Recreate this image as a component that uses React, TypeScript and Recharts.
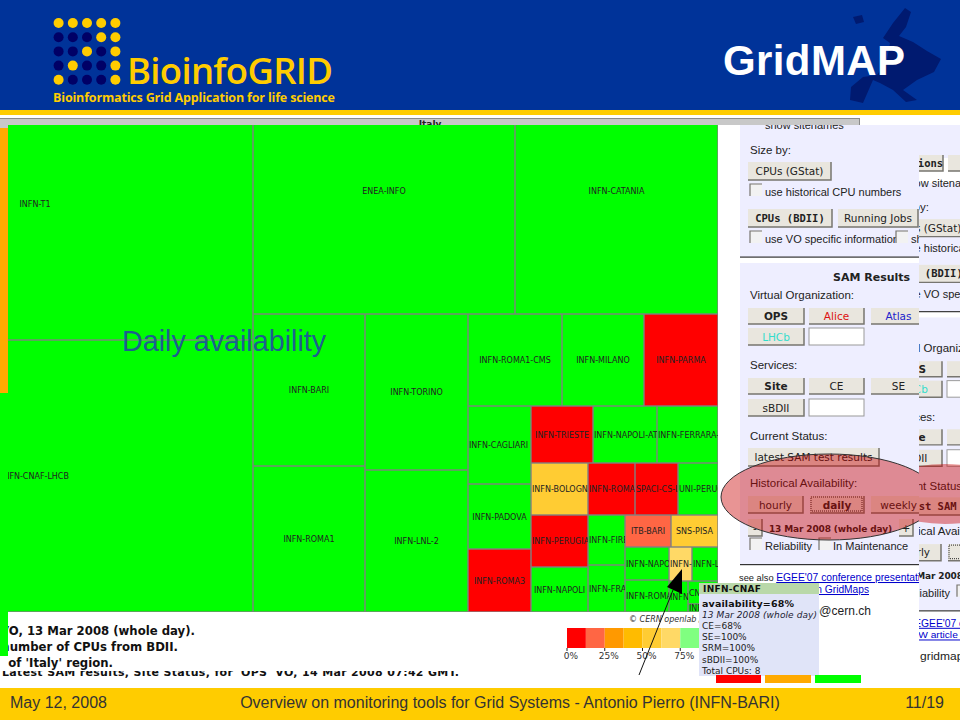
import { Bar, BarChart, Cell, Treemap, XAxis, YAxis } from 'recharts';

// sites in layout order, with CPU counts and daily availability
const siteNames = [
  'INFN-T1', 'INFN-CNAF-LHCB', 'ENEA-INFO', 'INFN-CATANIA', 'INFN-BARI', 'INFN-ROMA1', 'INFN-TORINO', 'INFN-LNL-2',
  'INFN-ROMA1-CMS', 'INFN-MILANO', 'INFN-PARMA', 'INFN-CAGLIARI', 'INFN-PADOVA', 'INFN-ROMA3', 'INFN-TRIESTE',
  'INFN-NAPOLI-ATLAS', 'INFN-FERRARA-GRID', 'INFN-BOLOGNA', 'INFN-PERUGIA', 'INFN-NAPOLI', 'INFN-ROMA2', 'SPACI-CS-IA64',
  'UNI-PERUGIA', 'INFN-FIRENZE', 'INFN-FRASCATI', 'ITB-BARI', 'SNS-PISA', 'INFN-NAPOLI-CMS', 'INFN-ROMA1-VIRGO',
  'INFN-CNAF', 'INFN-LECCE', 'INFN-GENOVA', 'CNR-ILC-PISA', 'INFN-PAVIA',
];
const siteCpus = [
  1210, 1210, 658, 510, 174, 167, 164, 149, 88, 77, 70, 50, 42, 41, 36, 37, 35, 30, 30, 26, 25, 23, 21, 19, 18, 15, 15, 15, 14, 8, 9, 6, 7, 2,
];
const siteAvailability = [
  100, 100, 100, 100, 100, 100, 100, 100, 100, 100, 0, 100, 100, 0, 0, 100, 100, 55, 0, 100, 0, 0, 100, 100, 100, 20, 55, 100, 100, 68, 100, 100, 100, 100,
];

const legendColours = ['#ff0000', '#ff6644', '#ff9900', '#ffbb00', '#ffcc33', '#ffd966', '#80ff80', '#40ff40'];
const legendTicks = [0, 25, 50, 75, 100];
const legendBand = 12.5;

const tooltipLines = ['CE=68%', 'SE=100%', 'SRM=100%', 'sBDII=100%', 'Total CPUs: 8'];
const logoDots = ['YYYYY', 'NNNYY', 'NNYNY', 'NYNNY', 'YNNNY'];

const treeData = siteNames.map((name, i) => ({ name, cpus: siteCpus[i], availability: siteAvailability[i] }));
const legendRow = [Object.fromEntries(legendColours.map((_, i) => [`b${i}`, legendBand]))];

const GREEN = '#00ff00';
const SANS = '"Liberation Sans", Arial, sans-serif';
const DEJAVU = '"DejaVu Sans", sans-serif';

function colourFor(availability: number) {
  if (availability >= 100) return GREEN;
  return legendColours[Math.floor(availability / legendBand)];
}

function SiteCell(props: any) {
  const { x, y, width, height, name, availability, depth } = props;
  if (depth !== 1) return null;
  const tooWide = name.length * 5.1 > width;
  return (
    <svg x={x} y={y} width={width} height={height}>
      <rect x={0} y={0} width={width} height={height} fill={colourFor(availability)} stroke="#808080" strokeWidth={1.4} />
      <text
        x={tooWide ? 1 : width / 2}
        y={height / 2 + 3}
        textAnchor={tooWide ? 'start' : 'middle'}
        fontFamily={DEJAVU}
        fontSize={8}
        stroke="none"
        fill="#222"
      >
        {name}
      </text>
    </svg>
  );
}

function Btn({ x, y, w, h = 18, label, bold, colour, mono, dotted }: any) {
  return (
    <g>
      <rect x={x} y={y} width={w} height={h} fill="#e9e6de" />
      <path d={`M${x} ${y + h}H${x + w}V${y}`} fill="none" stroke="#77756f" strokeWidth={1.5} />
      {dotted && <rect x={x + 1} y={y + 1} width={w - 3} height={h - 3} fill="none" stroke="#222" strokeDasharray="1 1" />}
      <text
        x={x + w / 2}
        y={y + h / 2 + 4}
        textAnchor="middle"
        fontFamily={mono ? '"DejaVu Sans Mono", monospace' : DEJAVU}
        fontWeight={bold ? 700 : 400}
        fontSize={10.5}
        fill={colour || '#222'}
      >
        {label}
      </text>
    </g>
  );
}

function Check({ x, y }: { x: number; y: number }) {
  return (
    <g>
      <rect x={x} y={y} width={12} height={12} fill="#f2f2f2" />
      <path d={`M${x} ${y + 12}V${y}H${x + 12}`} fill="none" stroke="#77756f" strokeWidth={1.2} />
    </g>
  );
}

function Label({ x, y, size = 11.5, children }: any) {
  return (
    <text x={x} y={y} fontFamily={SANS} fontSize={size} fill="#222">
      {children}
    </text>
  );
}

function Panel({ behind }: { behind?: boolean }) {
  return (
    <g>
      <rect x={740} y={125} width={320} height={132} fill="#eeeeff" />
      <rect x={740} y={256.5} width={320} height={1.2} fill="#333" />
      <rect x={740} y={263} width={320} height={301} fill="#eeeeff" />
      <rect x={740} y={564} width={320} height={1.2} fill="#333" />
      <Label x={765} y={129} size={11}>show sitenames</Label>
      <Label x={750} y={154}>Size by:</Label>
      <Btn x={748} y={162} w={83} label="CPUs (GStat)" />
      <Check x={750} y={184} />
      <Label x={765} y={196} size={11}>use historical CPU numbers</Label>
      <Btn x={748} y={209} w={84} label="CPUs (BDII)" bold mono />
      <Btn x={838} y={209} w={80} label="Running Jobs" />
      <Check x={750} y={231} />
      <Label x={765} y={243} size={11}>use VO specific information</Label>
      <Check x={896} y={231} />
      <Label x={911} y={243} size={11}>show</Label>

      <text x={833} y={281} fontFamily={DEJAVU} fontWeight={700} fontSize={11} fill="#222">SAM Results</text>
      <Label x={750} y={299}>Virtual Organization:</Label>
      <Btn x={748} y={308} w={56} h={16} label="OPS" bold />
      <Btn x={809} y={308} w={55} h={16} label="Alice" colour="#dd1111" />
      <Btn x={871} y={308} w={55} h={16} label="Atlas" colour="#2222cc" />
      <Btn x={748} y={328} w={56} h={17} label="LHCb" colour="#33ddcc" />
      <rect x={809} y={328} width={55} height={17} fill="#fff" stroke="#999" />
      <Label x={750} y={369}>Services:</Label>
      <Btn x={748} y={378} w={56} h={16} label="Site" bold />
      <Btn x={809} y={378} w={55} h={16} label="CE" />
      <Btn x={871} y={378} w={55} h={16} label="SE" />
      <Btn x={748} y={399} w={56} h={17} label="sBDII" />
      <rect x={809} y={399} width={55} height={17} fill="#fff" stroke="#999" />
      <Label x={750} y={440}>Current Status:</Label>
      {behind ? (
        <Btn x={748} y={448} w={160} label="latest SAM test results" bold mono />
      ) : (
        <Btn x={748} y={448} w={131} label="latest SAM test results" />
      )}
      <Label x={750} y={487}>Historical Availability:</Label>
      <Btn x={748} y={496} w={55} h={17} label="hourly" />
      <Btn x={810} y={496} w={54} h={17} label="daily" bold dotted />
      <Btn x={871} y={496} w={55} h={17} label="weekly" />
      <Btn x={748} y={519} w={14} h={17} label="-" />
      <text x={behind ? 763 : 769} y={532} fontFamily={DEJAVU} fontWeight={700} fontSize={9} fill="#222" textLength={123}>13 Mar 2008 (whole day)</text>
      <Btn x={899} y={519} w={14} h={17} label="+" />
      <Check x={750} y={538} />
      <Label x={765} y={550} size={11}>Reliability</Label>
      <Check x={819} y={538} />
      <Label x={833} y={550} size={11}>In Maintenance</Label>

      <text x={739} y={581} fontFamily={SANS} fontSize={9.3} fill="#222">
        see also{' '}
        <tspan fill="#0000cc" fontSize={10.3} textDecoration="underline">EGEE'07 conference presentation on GridMaps</tspan>
      </text>
      <text x={behind ? 757 : 745} y={593} fontFamily={SANS} fontSize={10.2} fill="#0000cc" textDecoration="underline">iSGTW article on GridMaps</text>
      <Label x={behind ? 782 : 776} y={615} size={12}>gridmap@cern.ch</Label>
    </g>
  );
}

function Europe() {
  return (
    <g fill="#001a70">
      <path d="M905 8L911 12L906 27L899 36L913 42L927 51L941 59L934 72L917 80L903 90L917 100L906 102L893 90L880 83L873 80L863 103L850 100L851 87L863 77L877 75L887 60L890 43L883 38L893 23Z" />
      <path d="M853 17L862 15L864 22L856 24Z" />
    </g>
  );
}

function Backdrop() {
  return (
    <svg width={960} height={720} style={{ position: 'absolute', left: 0, top: 0 }}>
      <defs>
        <clipPath id="frontClip"><rect x={0} y={125} width={919} height={563} /></clipPath>
        <clipPath id="backClip"><rect x={919} y={125} width={41} height={563} /></clipPath>
        <clipPath id="textClip"><rect x={8} y={612} width={300} height={58} /></clipPath>
        <clipPath id="cutLine"><rect x={0} y={671} width={480} height={9} /></clipPath>
        <clipPath id="italyClip"><rect x={0} y={118} width={860} height={7} /></clipPath>
      </defs>
      <rect x={718} y={118} width={242} height={570} fill="#fff" />
      <rect x={0} y={612} width={960} height={76} fill="#fff" />
      <rect x={0} y={125} width={8} height={490} fill="#fff" />
      <g clipPath="url(#backClip)">
        <g transform="translate(138 61.5) scale(1 0.973)">
          <Panel behind />
        </g>
        <rect x={919} y={125} width={41} height={33} fill="#eeeeff" />
        <Btn x={899} y={155} w={44} h={16} label="Options" bold mono />
        <Btn x={948} y={155} w={40} h={16} label="" />
      </g>
      <g clipPath="url(#frontClip)">
        <rect x={735} y={125} width={184} height={563} fill="#fff" />
        <Panel />
      </g>
      <rect x={0} y={118} width={860} height={7} fill="#c8c8c8" />
      <rect x={0} y={118} width={860} height={1} fill="#8a8a8a" />
      <rect x={859} y={118} width={1} height={7} fill="#8a8a8a" />
      <g clipPath="url(#italyClip)">
        <text x={430} y={127} textAnchor="middle" fontFamily={DEJAVU} fontSize={9} fontWeight={700} fill="#222">Italy</text>
      </g>

      <rect x={0} y={125} width={8} height={3} fill="#c8c8c8" />
      <rect x={0} y={128} width={8} height={265} fill="#ffaa00" />
      <rect x={0} y={393} width={8} height={263} fill={GREEN} />

      <g fontFamily={DEJAVU} fontWeight={700} fontSize={11.7} fill="#111" clipPath="url(#textClip)">
        <text x={195} y={635} textAnchor="end">Availability for OPS VO, 13 Mar 2008 (whole day).</text>
        <text x={178} y={651} textAnchor="end">Size: number of CPUs from BDII.</text>
        <text x={113} y={667} textAnchor="end">of 'Italy' region.</text>
      </g>
      <g clipPath="url(#cutLine)">
        <text x={2} y={676} fontFamily={DEJAVU} fontWeight={700} fontSize={11} fill="#111" textLength={457}>
          Latest SAM results, Site Status, for 'OPS' VO, 14 Mar 2008 07:42 GMT.
        </text>
      </g>
      <text x={629} y={622} fontFamily={DEJAVU} fontStyle="italic" fontSize={8} fill="#333">© CERN openlab /</text>

      <rect x={0} y={0} width={960} height={110} fill="#003399" />
      <rect x={0} y={110} width={960} height={5} fill="#ffcc00" />
      <rect x={0} y={115} width={960} height={3} fill="#fff" />
      {logoDots.map((row, r) =>
        row.split('').map((c, i) => (
          <circle key={`${r}-${i}`} cx={58.6 + i * 14.2} cy={23 + r * 14.2} r={5} fill={c === 'Y' ? '#ffcc00' : '#000066'} />
        )),
      )}
      <text x={127} y={84} fontFamily='"Open Sans", sans-serif' fontWeight={600} fontSize={36.5} fill="#ffcc00" textLength={206}>BioinfoGRID</text>
      <text x={53} y={102} fontFamily='"Open Sans", sans-serif' fontWeight={700} fontSize={12.5} fill="#ffcc00" textLength={282}>
        Bioinformatics Grid Application for life science
      </text>
      <Europe />
      <text x={723} y={75} fontFamily={SANS} fontWeight={700} fontSize={42} fill="#fff" textLength={182}>GridMAP</text>
    </svg>
  );
}

function Foreground() {
  return (
    <svg width={960} height={720} style={{ position: 'absolute', left: 0, top: 0 }}>
      <defs>
        <clipPath id="ellipseFront"><rect x={700} y={440} width={219} height={110} /></clipPath>
        <clipPath id="ellipseBack"><rect x={919} y={440} width={41} height={110} /></clipPath>
      </defs>
      <text x={122} y={351} fontFamily={SANS} fontSize={28.7} fill="#1d5f8f">Daily availability</text>

      <path d="M639 675L673 590" stroke="#111" strokeWidth={1} />
      <path d="M682 569L667 587L682 594Z" fill="#000" />

      <rect x={699} y={583} width={120} height={93} fill="#e0e4f8" />
      <rect x={699} y={583} width={120} height={11} fill="#b9d8a9" />
      <text x={703} y={592} fontFamily={DEJAVU} fontWeight={700} fontSize={9} fill="#111" textLength={58}>INFN-CNAF</text>
      <text x={702} y={607} fontFamily={DEJAVU} fontWeight={700} fontSize={9.5} fill="#111" textLength={92}>availability=68%</text>
      <text x={702} y={618} fontFamily={DEJAVU} fontStyle="italic" fontSize={9} fill="#223" textLength={115}>13 Mar 2008 (whole day)</text>
      {tooltipLines.map((line, i) => (
        <text key={line} x={702} y={629 + i * 11.2} fontFamily={DEJAVU} fontSize={9} fill="#222">{line}</text>
      ))}

      <rect x={716} y={675} width={45} height={8} fill="#ff0000" />
      <rect x={765} y={675} width={46} height={8} fill="#ffaa00" />
      <rect x={815} y={675} width={46} height={8} fill={GREEN} />

      <g clipPath="url(#ellipseFront)">
        <ellipse cx={829} cy={497} rx={108} ry={43} fill="#c80000" fillOpacity={0.42} stroke="#333" strokeWidth={1} />
      </g>
      <g clipPath="url(#ellipseBack)">
        <ellipse cx={945} cy={494} rx={70} ry={30} fill="#c80000" fillOpacity={0.42} />
      </g>

      <rect x={0} y={688} width={960} height={32} fill="#ffcc00" />
      <g fontFamily={SANS} fontSize={16} fill="#333">
        <text x={10} y={708}>May 12, 2008</text>
        <text x={510} y={708} textAnchor="middle">Overview on monitoring tools for Grid Systems - Antonio Pierro (INFN-BARI)</text>
        <text x={944} y={708} textAnchor="end">11/19</text>
      </g>
    </svg>
  );
}

export default function App() {
  return (
    <div style={{ position: 'absolute', left: 0, top: 0, width: 960, height: 720, overflow: 'hidden', background: '#fff' }}>
      {/* the map runs on under the slide header and left edge, as in the screenshot */}
      <div style={{ position: 'absolute', left: -183, top: 68 }}>
        <Treemap
          width={901}
          height={544}
          data={treeData}
          dataKey="cpus"
          nameKey="name"
          aspectRatio={1}
          stroke="#808080"
          isAnimationActive={false}
          content={<SiteCell />}
        />
      </div>
      <Backdrop />
      <div style={{ position: 'absolute', left: 557, top: 628 }}>
        <BarChart width={170} height={42} data={legendRow} layout="vertical" barCategoryGap={0} margin={{ top: 0, right: 9, bottom: 0, left: 10 }}>
          <XAxis
            type="number"
            domain={[0, 100]}
            ticks={legendTicks}
            tickFormatter={(v) => `${v}%`}
            axisLine={false}
            tickLine={{ stroke: '#222' }}
            tickSize={3}
            tick={{ fontSize: 9, fill: '#333', fontFamily: DEJAVU, dx: 4 }}
            height={22}
            interval={0}
          />
          <YAxis type="category" hide />
          {legendColours.map((colour, i) => (
            <Bar key={colour} dataKey={`b${i}`} stackId="scale" fill={colour} isAnimationActive={false}>
              <Cell fill={colour} />
            </Bar>
          ))}
        </BarChart>
      </div>
      <Foreground />
    </div>
  );
}
